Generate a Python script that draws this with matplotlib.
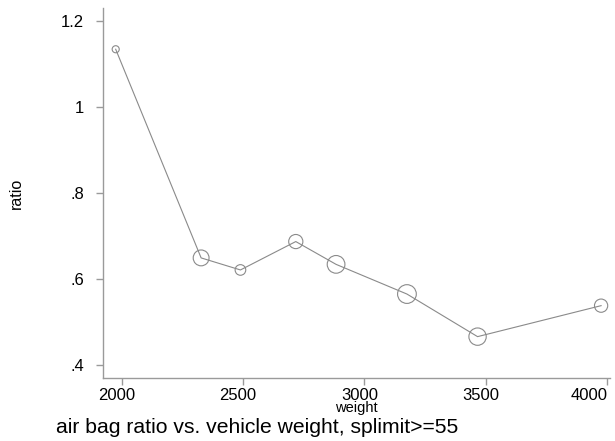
import matplotlib
matplotlib.use('Agg')
import numpy as np
import matplotlib.pyplot as plt
from matplotlib.transforms import ScaledTranslation

plt.rcParams['font.family'] = ['Liberation Sans', 'DejaVu Sans']

# weight class midpoints, air bag ratio, and number of obs (marker weight)
weight = [1975, 2327, 2489, 2717, 2883, 3175, 3466, 3975]
ratio = [1.134, 0.649, 0.621, 0.687, 0.634, 0.565, 0.466, 0.538]
n_obs = [4, 20, 9, 16, 25, 28, 24, 14]

xticks = [2000, 2500, 3000, 3500, 4000]
yticks = [0.4, 0.6, 0.8, 1.0, 1.2]
ylabels = ['.4', '.6', '.8', '1', '1.2']

fig = plt.figure(figsize=(6.15, 4.41), dpi=100)
ax = fig.add_axes([0.168, 0.143, 0.824, 0.838])

gray = '#9a9a9a'
ax.plot(weight, ratio, color='#8a8a8a', lw=0.8, zorder=2)
sizes = np.array(n_obs) * 6.5
ax.scatter(weight, ratio, s=sizes, facecolors='none', edgecolors='#8a8a8a',
           linewidths=0.8, zorder=3, clip_on=False)

ax.set_xlim(1924, 4012)
ax.set_ylim(0.370, 1.229)
ax.set_xticks(xticks)
ax.set_yticks(yticks)
ax.set_yticklabels(ylabels)

for s in ['top', 'right']:
    ax.spines[s].set_visible(False)
for s in ['left', 'bottom']:
    ax.spines[s].set_color(gray)
    ax.spines[s].set_linewidth(1.0)

ax.tick_params(axis='both', colors=gray, labelcolor='black', labelsize=12,
               length=5, width=1.0)
ax.tick_params(axis='y', pad=9)
ax.tick_params(axis='x', pad=2)

# x labels sit a touch left of the ticks, last one flush right
shift = ScaledTranslation(-5 / 100, 0, fig.dpi_scale_trans)
xlabs = ax.get_xticklabels()
for lab in xlabs:
    lab.set_transform(lab.get_transform() + shift)
xlabs[-1].set_horizontalalignment('right')
xlabs[-1].set_transform(xlabs[-1].get_transform()
                        + ScaledTranslation(5 / 100, 0, fig.dpi_scale_trans))

ax.set_xlabel('weight', fontsize=10.5, labelpad=-1)
ax.set_ylabel('ratio', fontsize=11.5)
ax.yaxis.set_label_coords(-0.156, 0.5)

fig.text(0.091, 0.018, 'air bag ratio vs. vehicle weight, splimit>=55',
         fontsize=15.2, ha='left', va='baseline')

fig.savefig('out.png', dpi=100)
